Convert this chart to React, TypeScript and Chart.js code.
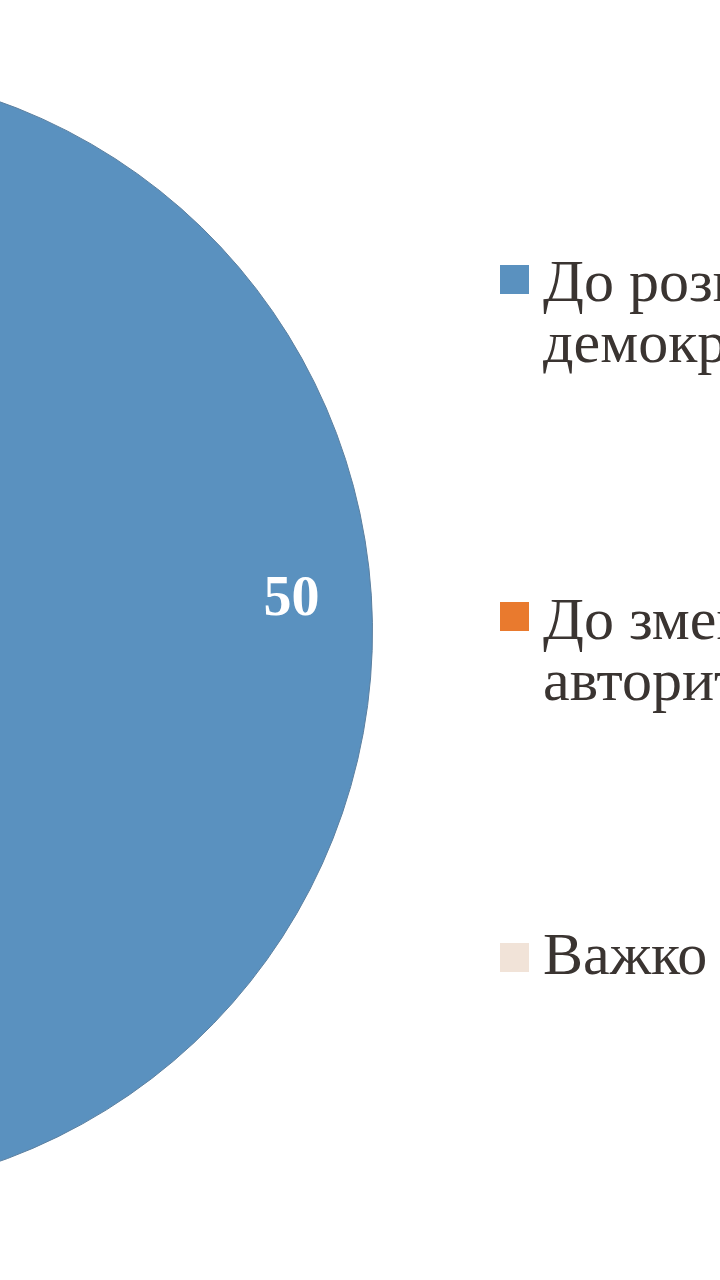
import React from 'react'
import { Chart, registerables, type Plugin } from 'chart.js'

Chart.register(...registerables)

// Pie data (only the blue slice is visible in the cropped view)
const categories = [
  ['До розширення', 'демократії'],
  ['До зменшення', 'авторитаризму'],
  ['Важко відповісти']
]
const values = [50, 30, 20]
const sliceColors = ['#5a91bf', '#e97a2e', '#f1e3d8']

// Geometry of the cropped pie (centre lies left of the page)
const PIE_CX = -191
const PIE_CY = 631
const PIE_R = 563
const CANVAS_SIZE = PIE_R * 2 + 1

const legendTops = [251, 589, 924]
const squareTops = [265, 602, 943]

const valueLabels: Plugin<'pie'> = {
  id: 'valueLabels',
  afterDatasetsDraw(chart) {
    const { ctx } = chart
    const meta = chart.getDatasetMeta(0)
    ctx.save()
    ctx.font = 'bold 56px "Liberation Serif", "Times New Roman", serif'
    ctx.fillStyle = '#ffffff'
    ctx.textAlign = 'center'
    ctx.textBaseline = 'middle'
    meta.data.forEach((arc: any, i) => {
      const { x, y, startAngle, endAngle, outerRadius } = arc.getProps(
        ['x', 'y', 'startAngle', 'endAngle', 'outerRadius'],
        true
      )
      const mid = (startAngle + endAngle) / 2
      const r = outerRadius * 0.858
      ctx.fillText(String(values[i]), x + Math.cos(mid) * r, y + Math.sin(mid) * r)
    })
    ctx.restore()
  }
}

export default function App() {
  const canvasRef = React.useRef<HTMLCanvasElement>(null)

  React.useEffect(() => {
    if (!canvasRef.current) return
    const chart = new Chart(canvasRef.current, {
      type: 'pie',
      data: {
        labels: categories.map(c => c.join(' ')),
        datasets: [
          {
            data: values,
            backgroundColor: sliceColors,
            borderColor: '#5b7f9f',
            borderWidth: 1
          }
        ]
      },
      options: {
        responsive: false,
        animation: false,
        rotation: -3.7,
        layout: { padding: 0 },
        plugins: {
          legend: { display: false },
          tooltip: { enabled: false }
        }
      },
      plugins: [valueLabels]
    })
    return () => chart.destroy()
  }, [])

  return (
    <div
      style={{
        position: 'fixed',
        left: 0,
        top: 0,
        width: 720,
        height: 1280,
        overflow: 'hidden',
        background: '#ffffff'
      }}
    >
      <canvas
        ref={canvasRef}
        width={CANVAS_SIZE}
        height={CANVAS_SIZE}
        style={{
          position: 'absolute',
          left: PIE_CX - CANVAS_SIZE / 2,
          top: PIE_CY - CANVAS_SIZE / 2,
          width: CANVAS_SIZE,
          height: CANVAS_SIZE
        }}
      />

      {/* Legend */}
      {categories.map((lines, i) => (
        <React.Fragment key={i}>
          <div
            style={{
              position: 'absolute',
              left: 500,
              top: squareTops[i],
              width: 29,
              height: 29,
              background: sliceColors[i]
            }}
          />
          <div
            style={{
              position: 'absolute',
              left: 543,
              top: legendTops[i],
              fontFamily: '"Liberation Serif", "Times New Roman", serif',
              fontSize: 60,
              lineHeight: '61px',
              color: '#3a3431',
              whiteSpace: 'nowrap'
            }}
          >
            {lines.map((line, j) => (
              <div key={j}>{line}</div>
            ))}
          </div>
        </React.Fragment>
      ))}
    </div>
  )
}
